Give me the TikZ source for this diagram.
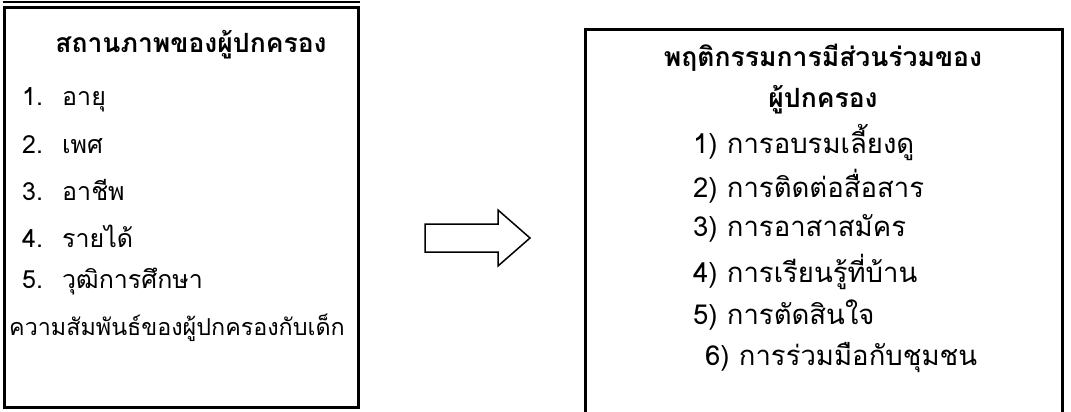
\documentclass[tikz,border=0pt]{standalone}
\usepackage{fontspec}
\setmainfont[Script=Thai]{Loma}
\begin{document}
\begin{tikzpicture}[x=1pt,y=-1pt,
  txt/.style={inner sep=0pt, anchor=west, font=\fontsize{25}{30}\selectfont},
  longtxt/.style={inner sep=0pt, anchor=west, font=\fontsize{23.3}{28}\selectfont},
  rtxt/.style={inner sep=0pt, anchor=west, font=\fontsize{27.5}{32}\selectfont},
  hd/.style={inner sep=0pt, anchor=center, font=\fontsize{26.5}{32}\selectfont\bfseries},
  frame/.style={draw, line width=3pt},
  blockarrow/.style={draw, line width=1.5pt, line join=miter}]
\useasboundingbox (0,0) rectangle (1071,412);
\clip (0,0) rectangle (1071,412);
% left box
\draw[frame] (4,8) rectangle (358,407);
\draw[line width=2pt] (2.5,2.5) -- (359.5,2.5);
\node[hd] (lh) at (191,45) {สถานภาพของผู้ปกครอง};
\node[txt] (l1) at (22,100) {\makebox[40pt][l]{1.}อายุ};
\node[txt] (l2) at (22,145) {\makebox[40pt][l]{2.}เพศ};
\node[txt] (l3) at (22,190) {\makebox[40pt][l]{3.}อาชีพ};
\node[txt] (l4) at (22,236) {\makebox[40pt][l]{4.}รายได้};
\node[txt] (l5) at (22,281) {\makebox[40pt][l]{5.}วุฒิการศึกษา};
\node[longtxt] (l6) at (9,328) {ความสัมพันธ์ของผู้ปกครองกับเด็ก};
% arrow
\draw[blockarrow] (425,224) -- (498,224) -- (498,210) -- (530,238) -- (498,266) -- (498,252) -- (425,252) -- cycle;
% right box
\draw[frame] (585,30) rectangle (1062,430);
\node[hd] (rh1) at (823,58) {พฤติกรรมการมีส่วนร่วมของ};
\node[hd] (rh2) at (823,100) {ผู้ปกครอง};
\node[rtxt] (r1) at (693,143) {1) การอบรมเลี้ยงดู};
\node[rtxt] (r2) at (693,186) {2) การติดต่อสื่อสาร};
\node[rtxt] (r3) at (693,228) {3) การอาสาสมัคร};
\node[rtxt] (r4) at (693,272) {4) การเรียนรู้ที่บ้าน};
\node[rtxt] (r5) at (693,315) {5) การตัดสินใจ};
\node[rtxt] (r6) at (705,358) {6) การร่วมมือกับชุมชน};
\end{tikzpicture}
\end{document}
